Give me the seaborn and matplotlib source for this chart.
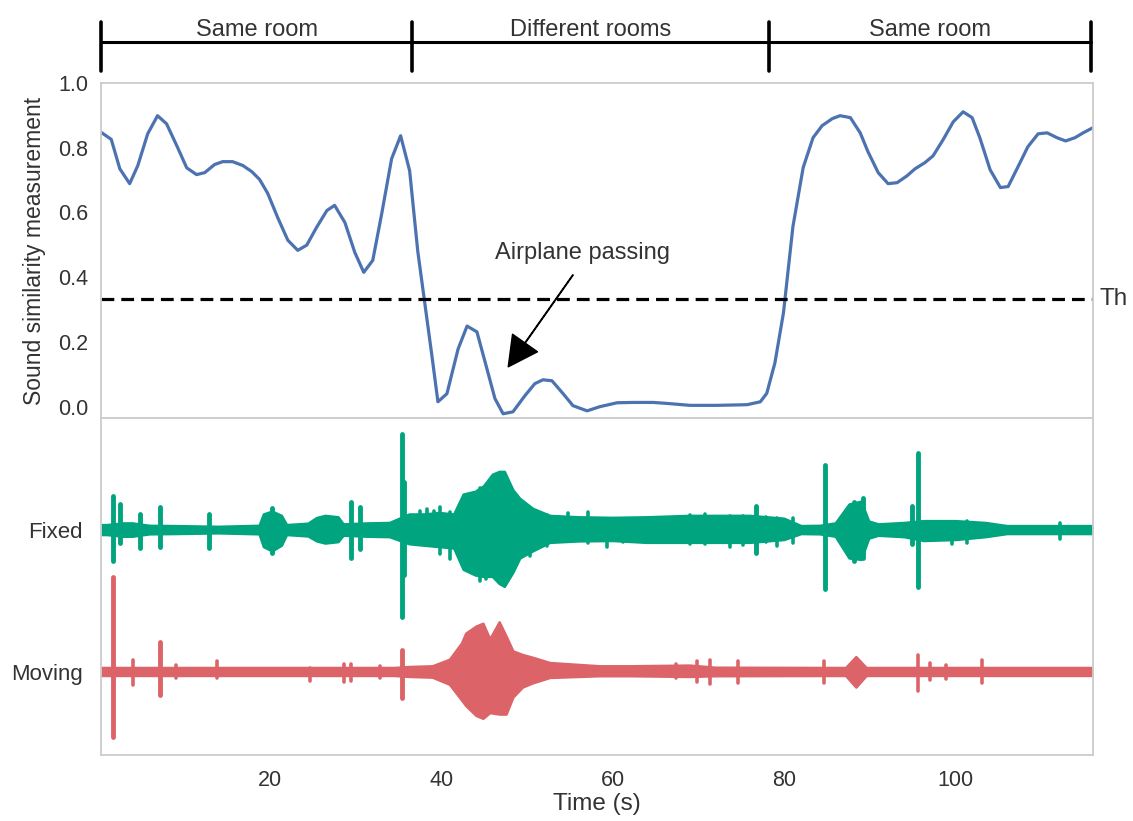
import numpy as np
import pandas as pd
import matplotlib
matplotlib.use("Agg")
import matplotlib.pyplot as plt
import matplotlib.transforms as mtransforms
import seaborn as sns

# similarity curve (top panel)
sim_time = [0.35, 1.5, 2.5, 3.65, 4.6, 5.75, 6.9, 7.95, 9.15, 10.3,
            11.45, 12.4, 13.55, 14.5, 15.65, 16.85, 17.9, 18.8, 19.75, 20.9,
            22.1, 23.25, 24.3, 25.45, 26.65, 27.55, 28.75, 29.9, 30.95, 32.0,
            33.05, 34.2, 35.25, 36.3, 37.25, 38.9, 39.6, 40.65, 41.95, 43.0,
            44.15, 45.1, 46.25, 47.2, 48.35, 49.75, 50.9, 51.85, 52.9, 54.2,
            55.35, 57.0, 58.5, 60.5, 62.35, 64.7, 66.3, 69.0, 72.15, 75.65,
            77.2, 77.95, 78.9, 79.9, 81.0, 82.2, 83.35, 84.4, 85.6, 86.5,
            87.7, 88.85, 89.75, 90.95, 92.1, 93.15, 94.3, 95.25, 96.4, 97.35,
            98.5, 99.7, 100.85, 101.9, 102.8, 104.0, 105.2, 106.1, 107.25, 108.4,
            109.6, 110.65, 111.8, 112.8, 113.9, 114.85, 116.0]
sim_value = [0.847, 0.826, 0.735, 0.689, 0.745, 0.843, 0.899, 0.874, 0.806, 0.738,
             0.717, 0.723, 0.748, 0.757, 0.757, 0.745, 0.726, 0.702, 0.659, 0.585,
             0.514, 0.483, 0.499, 0.554, 0.606, 0.622, 0.569, 0.477, 0.415, 0.452,
             0.597, 0.766, 0.837, 0.729, 0.48, 0.157, 0.015, 0.040, 0.178, 0.249,
             0.231, 0.138, 0.025, -0.022, -0.016, 0.034, 0.071, 0.083, 0.080, 0.040,
             0.003, -0.013, 0.0, 0.012, 0.013, 0.013, 0.010, 0.004, 0.004, 0.006,
             0.015, 0.041, 0.135, 0.290, 0.556, 0.739, 0.831, 0.868, 0.890, 0.899,
             0.893, 0.846, 0.788, 0.723, 0.689, 0.692, 0.713, 0.735, 0.754, 0.775,
             0.824, 0.880, 0.911, 0.893, 0.831, 0.732, 0.677, 0.680, 0.741, 0.803,
             0.843, 0.846, 0.831, 0.821, 0.831, 0.846, 0.862]
threshold = 0.332

rooms = ["Same room", "Different rooms", "Same room"]
room_edges = [0.3, 36.6, 78.2, 115.8]

annot_text = "Airplane passing"
annot_text_xy = (56.5, 0.475)
arrow_tail = (55.35, 0.407)
arrow_tip = (47.8, 0.123)

# audio envelopes (bottom panel), amplitude in units of row spacing
fixed_t = [0.3, 1.0, 3.0, 4.0, 6.0, 9.0, 12.0, 14.0, 18.8, 19.3,
           20.3, 21.4, 22.0, 24.5, 25.5, 26.5, 28.0, 28.6, 31.5, 34.0,
           36.3, 38.0, 39.8, 41.5, 42.6, 44.0, 45.0, 46.0, 46.8, 47.4,
           48.4, 49.2, 50.7, 52.7, 56.0, 60.0, 64.0, 69.0, 72.0, 76.0,
           80.0, 82.0, 84.2, 86.0, 87.6, 89.0, 89.9, 91.0, 94.0, 96.3,
           100.0, 103.5, 106.0, 112.0, 116.0]
fixed_up = [0.035, 0.035, 0.047, 0.047, 0.030, 0.028, 0.025, 0.023, 0.030, 0.110,
            0.130, 0.100, 0.035, 0.045, 0.085, 0.100, 0.090, 0.040, 0.047, 0.050,
            0.110, 0.110, 0.120, 0.110, 0.250, 0.270, 0.310, 0.390, 0.410, 0.410,
            0.280, 0.220, 0.150, 0.100, 0.090, 0.086, 0.090, 0.100, 0.100, 0.100,
            0.080, 0.028, 0.030, 0.047, 0.180, 0.200, 0.060, 0.040, 0.050, 0.063,
            0.063, 0.050, 0.028, 0.028, 0.028]
fixed_down = [0.035, 0.035, 0.047, 0.047, 0.030, 0.028, 0.025, 0.023, 0.030, 0.120,
              0.150, 0.110, 0.035, 0.045, 0.080, 0.095, 0.085, 0.040, 0.047, 0.050,
              0.100, 0.110, 0.120, 0.130, 0.280, 0.320, 0.330, 0.330, 0.380, 0.400,
              0.300, 0.200, 0.150, 0.090, 0.080, 0.077, 0.090, 0.090, 0.090, 0.090,
              0.070, 0.028, 0.030, 0.047, 0.200, 0.210, 0.060, 0.040, 0.050, 0.077,
              0.070, 0.050, 0.028, 0.028, 0.028]
fixed_spike_t = [1.7, 2.5, 4.9, 7.15, 12.9, 20.2, 29.5, 30.5, 35.4, 35.7,
                 76.7, 84.7, 88.1, 89.2, 94.9, 95.6]
fixed_spike_up = [0.238, 0.187, 0.11, 0.16, 0.11, 0.156, 0.2, 0.16, 0.68, 0.34,
                  0.17, 0.46, 0.2, 0.226, 0.17, 0.545]
fixed_spike_down = [0.217, 0.09, 0.124, 0.117, 0.124, 0.16, 0.2, 0.135, 0.61, 0.32,
                    0.165, 0.415, 0.22, 0.2, 0.1, 0.40]
fixed_tick_t = [37.5, 38.3, 39.2, 39.8, 41.0, 41.9, 44.5, 45.2, 50.3, 52.3,
                54.8, 57.1, 59.3, 61.2, 69.0, 70.8, 73.7, 75.2, 77.9, 79.1,
                81.0, 86.9, 99.5, 101.3, 112.2]
fixed_tick_up = [0.133, 0.145, 0.133, 0.163, 0.126, 0.117, 0.30, 0.32, 0.156, 0.103,
                 0.121, 0.126, 0.075, 0.07, 0.103, 0.11, 0.098, 0.098, 0.093, 0.086,
                 0.086, 0.098, 0.033, 0.063, 0.051]
fixed_tick_down = [0.077, 0.089, 0.089, 0.17, 0.205, 0.17, 0.357, 0.345, 0.182, 0.112,
                   0.077, 0.089, 0.117, 0.084, 0.1, 0.1, 0.117, 0.107, 0.084, 0.112,
                   0.089, 0.077, 0.1, 0.089, 0.065]

moving_t = [0.3, 34.5, 36.3, 39.0, 41.0, 42.4, 42.9, 44.1, 44.9, 45.7,
            46.8, 47.6, 48.4, 49.5, 50.7, 52.7, 58.5, 62.0, 69.0, 72.0,
            87.2, 88.4, 89.6, 116.0]
moving_up = [0.028, 0.028, 0.035, 0.040, 0.086, 0.200, 0.270, 0.320, 0.340, 0.230,
             0.350, 0.250, 0.145, 0.120, 0.100, 0.063, 0.040, 0.040, 0.045, 0.030,
             0.028, 0.105, 0.028, 0.028]
moving_down = [0.028, 0.028, 0.035, 0.040, 0.090, 0.200, 0.240, 0.310, 0.330, 0.290,
               0.300, 0.300, 0.180, 0.110, 0.080, 0.042, 0.030, 0.030, 0.035, 0.030,
               0.028, 0.110, 0.028, 0.028]
moving_spike_t = [1.7, 7.15, 35.4]
moving_spike_up = [0.67, 0.21, 0.156]
moving_spike_down = [0.46, 0.16, 0.18]
moving_tick_t = [4.0, 9.1, 13.8, 24.7, 28.7, 29.5, 32.8, 67.4, 69.8, 71.3,
                 74.6, 84.6, 95.6, 97.0, 98.8, 103.0]
moving_tick_up = [0.082, 0.047, 0.075, 0.03, 0.056, 0.056, 0.04, 0.056, 0.08, 0.082,
                  0.075, 0.075, 0.121, 0.063, 0.05, 0.082]
moving_tick_down = [0.089, 0.042, 0.042, 0.065, 0.07, 0.065, 0.042, 0.042, 0.07, 0.082,
                    0.077, 0.077, 0.135, 0.054, 0.05, 0.077]

row_labels = ["Fixed", "Moving"]
row_offsets = [1.0, 0.0]

blue = "#4c72b0"
green = "#00a47f"
red = "#dc6468"
text_col = "#333333"

sns.set_theme(style="white")
plt.rcParams["font.family"] = ["Liberation Sans", "DejaVu Sans"]

fig = plt.figure(figsize=(11.33, 8.21), dpi=100)
ax_top = fig.add_axes([0.0891, 0.4909, 0.8756, 0.4080])
ax_bot = fig.add_axes([0.0891, 0.0804, 0.8756, 0.4105], sharex=ax_top)

for ax in (ax_top, ax_bot):
    for s in ax.spines.values():
        s.set_color("#cccccc")
        s.set_linewidth(1.3)

# top panel
df_sim = pd.DataFrame({"time": sim_time, "sim": sim_value})
sns.lineplot(data=df_sim, x="time", y="sim", ax=ax_top, color=blue, linewidth=2.3)
ax_top.axhline(threshold, color="black", linestyle=(0, (4, 2.2)), linewidth=2.3)
ax_top.text(116.8, threshold, "Th", ha="left", va="center", fontsize=17.5, color=text_col)
ax_top.set_xlim(0.3, 116.0)
ax_top.set_ylim(-0.035, 1.0)
ax_top.set_yticks([0.0, 0.2, 0.4, 0.6, 0.8, 1.0])
ax_top.set_ylabel("Sound similarity measurement", fontsize=16.5, color=text_col, labelpad=9)
ax_top.set_xlabel("")
ax_top.tick_params(axis="y", labelsize=15.5, colors=text_col, pad=3)
ax_top.tick_params(axis="x", labelbottom=False)

ax_top.text(*annot_text_xy, annot_text, ha="center", va="center", fontsize=17, color=text_col)
ax_top.annotate("", xy=arrow_tip, xytext=arrow_tail,
                arrowprops=dict(facecolor="black", edgecolor="black", width=0.4,
                                headwidth=22, headlength=21, shrink=0.0))

# room brackets above the top panel
trans = mtransforms.blended_transform_factory(ax_top.transData, ax_top.transAxes)
ax_top.plot([room_edges[0], room_edges[-1]], [1.122, 1.122], color="black", lw=2.2,
            transform=trans, clip_on=False)
for e in room_edges:
    ax_top.plot([e, e], [1.036, 1.181], color="black", lw=2.6, transform=trans, clip_on=False)
for i, name in enumerate(rooms):
    mid = (room_edges[i] + room_edges[i + 1]) / 2
    ax_top.text(mid, 1.140, name, transform=trans, ha="center", va="baseline",
                fontsize=17, color=text_col)

# bottom panel
rows = [
    (fixed_t, fixed_up, fixed_down, fixed_spike_t, fixed_spike_up, fixed_spike_down,
     fixed_tick_t, fixed_tick_up, fixed_tick_down, green),
    (moving_t, moving_up, moving_down, moving_spike_t, moving_spike_up, moving_spike_down,
     moving_tick_t, moving_tick_up, moving_tick_down, red),
]
for off, (t, up, dn, st, su, sd, kt, ku, kd, col) in zip(row_offsets, rows):
    t = np.array(t)
    upper = off + np.array(up)
    lower = off - np.array(dn)
    ax_bot.fill_between(t, lower, upper, color=col, linewidth=0)
    ax_bot.plot(t, upper, color=col, lw=1.8, solid_joinstyle="round")
    ax_bot.plot(t, lower, color=col, lw=1.8, solid_joinstyle="round")
    ax_bot.vlines(kt, off - np.array(kd), off + np.array(ku), color=col, lw=2.6,
                  capstyle="round")
    ax_bot.vlines(st, off - np.array(sd), off + np.array(su), color=col, lw=3.5,
                  capstyle="round")

ax_bot.set_ylim(-0.585, 1.79)
ax_bot.set_yticks(row_offsets)
ax_bot.set_yticklabels(row_labels)
ax_bot.set_xticks([20, 40, 60, 80, 100])
ax_bot.tick_params(axis="both", labelsize=15.5, colors=text_col)
ax_bot.tick_params(axis="y", labelsize=16, pad=7)
ax_bot.tick_params(axis="x", pad=5)
ax_bot.set_xlabel("Time (s)", fontsize=17.5, color=text_col, labelpad=1)
ax_bot.set_xlim(0.3, 116.0)

fig.savefig("out.png", dpi=100)
